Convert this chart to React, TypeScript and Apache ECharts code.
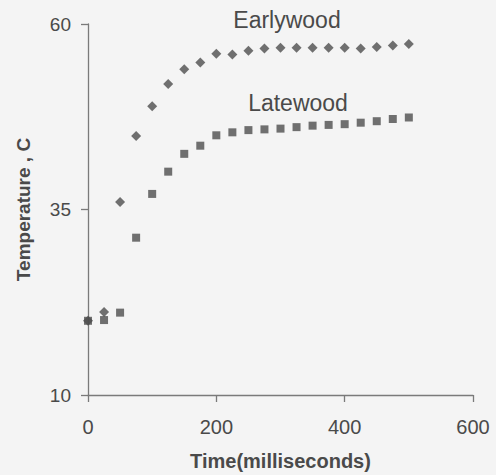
import React, { useEffect, useRef } from "react";
import * as echarts from "echarts";

const timeMs = [0, 25, 50, 75, 100, 125, 150, 175, 200, 225, 250, 275, 300, 325, 350, 375, 400, 425, 450, 475, 500];
const earlywood = [20, 21.2, 36.0, 44.9, 48.9, 51.9, 53.9, 54.8, 56.0, 55.9, 56.4, 56.7, 56.8, 56.8, 56.8, 56.8, 56.8, 56.7, 56.9, 57.1, 57.3];
const latewood = [20, 20.1, 21.1, 31.2, 37.1, 40.1, 42.5, 43.6, 45.0, 45.4, 45.7, 45.8, 45.9, 46.1, 46.3, 46.4, 46.5, 46.7, 46.9, 47.2, 47.4];
const seriesLabels = ["Earlywood", "Latewood"];

export default function App() {
  const ref = useRef<HTMLDivElement>(null);
  useEffect(() => {
    if (!ref.current) return;
    const chart = echarts.init(ref.current, null, { renderer: "svg" });
    const font = "'Liberation Sans', Arial, sans-serif";
    const axisColor = "#7a7a7a";
    const textColor = "#4a4a4a";
    chart.setOption({
      animation: false,
      backgroundColor: "#f4f4f4",
      textStyle: { fontFamily: font },
      grid: { left: 88, right: 23, top: 24, bottom: 80, containLabel: false, outerBoundsMode: "none" },
      xAxis: {
        type: "value",
        min: 0,
        max: 600,
        interval: 200,
        name: "Time(milliseconds)",
        nameLocation: "middle",
        nameGap: 56,
        nameTextStyle: { fontSize: 20, fontWeight: "bold", color: textColor, fontFamily: font },
        axisLine: { show: true, onZero: false, lineStyle: { color: axisColor, width: 1.3 } },
        axisTick: { show: true, inside: false, length: 7, lineStyle: { color: axisColor, width: 1.3 } },
        axisLabel: { fontSize: 20, color: textColor, margin: 22, fontFamily: font },
        splitLine: { show: false },
      },
      yAxis: {
        type: "value",
        min: 10,
        max: 60,
        interval: 25,
        name: "Temperature , C",
        nameLocation: "middle",
        nameGap: 55,
        nameTextStyle: { fontSize: 19, fontWeight: "bold", color: textColor, fontFamily: font },
        axisLine: { show: true, onZero: false, lineStyle: { color: axisColor, width: 1.3 } },
        axisTick: { show: true, inside: false, length: 7, lineStyle: { color: axisColor, width: 1.3 } },
        axisLabel: { fontSize: 19, color: textColor, margin: 17, fontFamily: font },
        splitLine: { show: false },
      },
      series: [
        {
          name: seriesLabels[0],
          type: "scatter",
          symbol: "diamond",
          symbolSize: [10, 10],
          itemStyle: { color: "#4d4d4d" },
          data: timeMs.map((t, i) => [t, earlywood[i]]),
        },
        {
          name: seriesLabels[1],
          type: "scatter",
          symbol: "rect",
          symbolSize: 8,
          itemStyle: { color: "#4d4d4d" },
          data: timeMs.map((t, i) => [t, latewood[i]]),
        },
      ],
      graphic: [
        {
          type: "text",
          x: 287,
          y: 20,
          style: { text: seriesLabels[0], fontSize: 23, fill: textColor, fontFamily: font, align: "center", verticalAlign: "middle" },
        },
        {
          type: "text",
          x: 298,
          y: 103,
          style: { text: seriesLabels[1], fontSize: 23, fill: textColor, fontFamily: font, align: "center", verticalAlign: "middle" },
        },
      ],
    });
    return () => chart.dispose();
  }, []);
  return <div ref={ref} style={{ width: 496, height: 475, position: "absolute", left: 0, top: 0 }} />;
}
